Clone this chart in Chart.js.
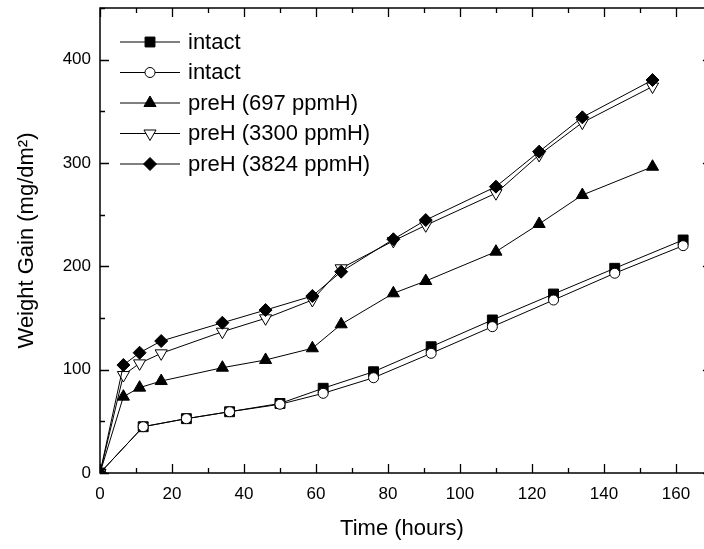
<!DOCTYPE html>
<html>
<head>
<meta charset="utf-8">
<script src="https://cdn.jsdelivr.net/npm/chart.js"></script>
<style>
  html, body { margin: 0; padding: 0; background: #fff; overflow: hidden; }
  #wrap { width: 704px; height: 549px; }
</style>
</head>
<body>
<div id="wrap"><canvas id="gainChart" width="704" height="549"></canvas></div>
<script>
// data
const intactTime = [0, 12, 24, 36, 50, 62, 76, 92, 109, 126, 143, 162];
const intactA = [0, 44.8, 52.6, 59.3, 67.3, 82.0, 98.0, 122.2, 148.1, 173.2, 198.1, 225.5];
const intactB = [0, 44.8, 52.6, 59.3, 66.5, 77.1, 92.2, 115.8, 141.6, 167.4, 193.3, 220.0];
const preHTime = [0, 6.5, 11, 17, 34, 46, 59, 67, 81.5, 90.5, 110, 122, 134, 153.5];
const preH697 = [0, 73.9, 82.6, 89.0, 101.9, 109.4, 120.7, 143.9, 173.9, 185.8, 214.2, 241.0, 269.0, 296.4];
const preH3300 = [0, 94.8, 106.1, 115.8, 136.7, 149.7, 167.4, 198.1, 224.6, 239.7, 270.8, 307.8, 339.1, 374.0];
const preH3824 = [0, 104.5, 116.4, 127.7, 145.4, 157.7, 171.3, 194.8, 226.2, 244.8, 277.1, 311.0, 344.2, 380.3];

const seriesLabels = ['intact', 'intact', 'preH (697 ppmH)', 'preH (3300 ppmH)', 'preH (3824 ppmH)'];
const xTicks = [0, 20, 40, 60, 80, 100, 120, 140, 160];
const yTicks = [0, 100, 200, 300, 400];

const FONT = "'Liberation Sans', Arial, sans-serif";
// the original frame ends at x = 170, just past the picture's right edge
const X_FRAME_END = 170;

function toPoints(xs, ys) {
    return xs.map((x, i) => ({ x: x, y: ys[i] }));
}

// marker styles per series
const markers = [
    { pointStyle: 'rect', radius: 7, rotation: 0, fill: '#000' },
    { pointStyle: 'circle', radius: 5, rotation: 0, fill: '#fff' },
    { pointStyle: 'triangle', radius: 7, rotation: 0, fill: '#000' },
    { pointStyle: 'triangle', radius: 7, rotation: 180, fill: '#fff' },
    { pointStyle: 'rectRot', radius: 6.5, rotation: 0, fill: '#000' }
];

const seriesData = [
    toPoints(intactTime, intactA),
    toPoints(intactTime, intactB),
    toPoints(preHTime, preH697),
    toPoints(preHTime, preH3300),
    toPoints(preHTime, preH3824)
];

const datasets = seriesData.map((d, i) => ({
    label: seriesLabels[i],
    data: d,
    borderColor: '#000',
    borderWidth: 1,
    backgroundColor: markers[i].fill,
    pointStyle: markers[i].pointStyle,
    pointRadius: markers[i].radius,
    pointRotation: markers[i].rotation,
    pointBorderColor: '#000',
    pointBackgroundColor: markers[i].fill,
    pointBorderWidth: 1,
    tension: 0,
    order: 5 - i // later series on top, like the original
}));

// frame with inward ticks; right side sits off the canvas, only its ticks peek in
const framePlugin = {
    id: 'frame',
    afterDatasetsDraw(chart) {
        const ctx = chart.ctx;
        const a = chart.chartArea;
        const xs = chart.scales.x;
        const ys = chart.scales.y;
        const rightEdge = xs.getPixelForValue(X_FRAME_END);
        ctx.save();
        ctx.strokeStyle = '#000';
        ctx.lineWidth = 1.5;
        ctx.beginPath();
        ctx.moveTo(rightEdge, a.top); ctx.lineTo(a.left, a.top);
        ctx.lineTo(a.left, a.bottom); ctx.lineTo(rightEdge, a.bottom);
        ctx.lineTo(rightEdge, a.top);
        ctx.stroke();
        ctx.lineWidth = 1.3;
        ctx.beginPath();
        for (let v = 0; v <= X_FRAME_END; v += 10) {
            const px = Math.round(xs.getPixelForValue(v)) + 0.5;
            const len = v % 20 === 0 ? 9 : 5;
            ctx.moveTo(px, a.bottom); ctx.lineTo(px, a.bottom - len);
            ctx.moveTo(px, a.top); ctx.lineTo(px, a.top + len);
        }
        for (let v = 0; v <= 450; v += 50) {
            const py = Math.round(ys.getPixelForValue(v)) + 0.5;
            const len = v % 100 === 0 ? 9 : 5;
            ctx.moveTo(a.left, py); ctx.lineTo(a.left + len, py);
            ctx.moveTo(rightEdge, py); ctx.lineTo(rightEdge - len, py);
        }
        ctx.stroke();
        ctx.restore();
    }
};

// legend drawn as line + marker + text, Origin style
const legendPlugin = {
    id: 'lineLegend',
    afterDraw(chart) {
        const ctx = chart.ctx;
        ctx.save();
        ctx.font = '22px ' + FONT;
        ctx.textBaseline = 'middle';
        ctx.textAlign = 'left';
        seriesLabels.forEach((label, i) => {
            const y = 41.5 + i * 30.5;
            ctx.strokeStyle = '#000';
            ctx.lineWidth = 1;
            ctx.beginPath();
            ctx.moveTo(120, y + 0.5);
            ctx.lineTo(180, y + 0.5);
            ctx.stroke();
            ctx.fillStyle = markers[i].fill;
            ctx.strokeStyle = '#000';
            Chart.helpers.drawPoint(ctx, {
                pointStyle: markers[i].pointStyle,
                radius: markers[i].radius,
                rotation: markers[i].rotation,
                borderWidth: 1
            }, 150, y + 0.5);
            ctx.fillStyle = '#000';
            ctx.fillText(label, 188, y + 1);
        });
        ctx.restore();
    }
};

const ctx = document.getElementById('gainChart').getContext('2d');

const gainChart = new Chart(ctx, {
    type: 'line',
    data: { datasets: datasets },
    plugins: [framePlugin, legendPlugin],
    options: {
        responsive: false,
        animation: false,
        devicePixelRatio: 1,
        layout: {
            autoPadding: false, // otherwise the markers push the plot edge inwards
            padding: { top: 8, right: 0, left: 0, bottom: 0 }
        },
        plugins: {
            legend: { display: false },
            tooltip: { enabled: false }
        },
        scales: {
            x: {
                type: 'linear',
                min: 0,
                max: 167.8, // visible part of the 0-170 axis
                afterFit(scale) {
                    scale.height = 76;
                    scale.paddingLeft = 0;
                    scale.paddingRight = 0;
                },
                afterBuildTicks(scale) { scale.ticks = xTicks.map(v => ({ value: v })); },
                grid: { display: false, drawTicks: false },
                border: { display: false },
                ticks: {
                    color: '#000',
                    font: { family: FONT, size: 17 },
                    padding: 11,
                    maxRotation: 0
                },
                title: {
                    display: true,
                    text: 'Time (hours)',
                    color: '#000',
                    font: { family: FONT, size: 22 },
                    padding: { top: 0, bottom: 7 }
                }
            },
            y: {
                type: 'linear',
                min: 0,
                max: 450,
                afterFit(scale) {
                    scale.width = 100;
                    scale.paddingTop = 0;
                    scale.paddingBottom = 0;
                },
                afterBuildTicks(scale) { scale.ticks = yTicks.map(v => ({ value: v })); },
                grid: { display: false, drawTicks: false },
                border: { display: false },
                ticks: {
                    color: '#000',
                    font: { family: FONT, size: 17 },
                    padding: 9
                },
                title: {
                    display: true,
                    text: 'Weight Gain (mg/dm²)',
                    color: '#000',
                    font: { family: FONT, size: 22 },
                    padding: { top: 14, bottom: 0 }
                }
            }
        }
    }
});
</script>
</body>
</html>
